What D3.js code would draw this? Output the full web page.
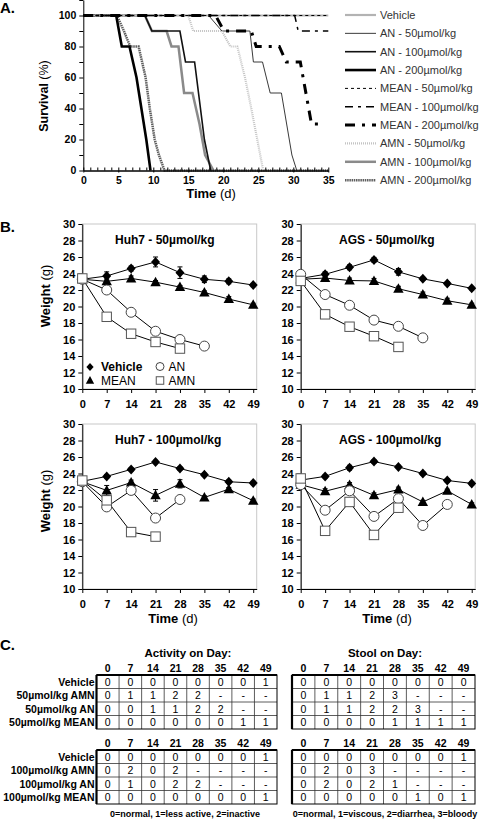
<!DOCTYPE html>
<html><head><meta charset="utf-8">
<script src="https://cdn.jsdelivr.net/npm/d3@7"></script>
<style>body{margin:0;background:#fff}svg{display:block}</style>
</head><body>
<svg id="c" width="480" height="819"></svg>
<script>
// ---------- Panel A: survival data (day, % survival) ----------
const survLabels = ["Vehicle","AN - 50µmol/kg","AN - 100µmol/kg","AN - 200µmol/kg","MEAN - 50µmol/kg","MEAN - 100µmol/kg","MEAN - 200µmol/kg","AMN - 50µmol/kg","AMN - 100µmol/kg","AMN - 200µmol/kg"];
const survVehicle = [[0,100],[35,100]];
const survAN50 = [[0,100],[17.9,100],[19.8,90],[23.8,90],[24.3,70],[25.6,70],[26.7,50],[28.3,50],[29.8,10],[30.5,0]];
const survAN100 = [[0,100],[8.8,100],[9.8,90],[13.8,90],[14.6,70],[15.9,70],[17.3,20],[18.2,0]];
const survAN200 = [[0,100],[4.7,100],[5.5,80],[6.6,80],[7.6,60],[8.3,40],[9.0,20],[9.6,0]];
const survMEAN50 = [[0,100],[35,100]];
const survMEAN100 = [[0,100],[30.2,100],[30.7,90],[35,90]];
const survMEAN200 = [[0,100],[18.9,100],[20.1,90],[24,90],[24.7,80],[28,80],[29,70],[31,70],[32.6,30],[33.6,30]];
const survAMN50 = [[0,100],[15,100],[15.7,90],[19.8,90],[21,80],[22,80],[23.1,60],[24,40],[25.7,0]];
const survAMN100 = [[0,100],[8.8,100],[9.8,90],[11.9,90],[12.6,80],[13.6,80],[14.4,50],[15.6,50],[16.6,30],[17.4,10],[18.6,0]];
const survAMN200 = [[0,100],[4.8,100],[5.8,90],[6.7,80],[7.9,80],[8.9,60],[9.5,40],[10.2,20],[10.8,10],[11.6,0],[35,0]];
const survTicksX = [0,5,10,15,20,25,30,35];
const survTicksY = [0,20,40,60,80,100];

// ---------- Panel B: body weight (g) ----------
const weekDays = [0,7,14,21,28,35,42,49];
const weightTicksY = [10,12,14,16,18,20,22,24,26,28,30];
const huh50Vehicle = [23.3,23.7,24.6,25.4,24.1,23.3,23.05,22.6];
const huh50VehicleErr = [0.3,0.5,0.3,0.6,0.7,0.4,0.3,0.2];
const huh50Mean = [23.3,23.05,23.4,22.95,22.35,21.7,20.9,20.2];
const huh50MeanErr = [0.2,0.3,0.3,0.2,0.2,0.2,0.3,0.2];
const huh50AN = [23.3,22.0,19.3,17.0,16.0,15.2];
const huh50AMN = [23.4,18.75,16.7,15.7,14.9];
const ags50Vehicle = [23.4,23.9,24.75,25.65,24.2,23.35,22.8,22.2];
const ags50VehicleErr = [0.3,0.3,0.3,0.3,0.4,0.2,0.2,0.2];
const ags50Mean = [23.3,23.45,23.15,23.1,22.15,21.45,20.7,20.2];
const ags50MeanErr = [0.3,0.3,0.3,0.3,0.3,0.3,0.3,0.2];
const ags50AN = [23.9,21.45,20.15,18.35,17.6,16.2];
const ags50AMN = [23.1,19.05,17.55,16.4,15.1];
const huh100Vehicle = [23.05,23.65,24.5,25.4,24.6,23.85,23.0,22.85];
const huh100VehicleErr = [0.2,0.2,0.2,0.2,0.2,0.2,0.2,0.2];
const huh100Mean = [23.0,21.95,22.9,21.35,22.75,21.1,22.1,20.7];
const huh100MeanErr = [0.2,0.6,0.3,0.7,0.5,0.2,0.2,0.2];
const huh100AN = [23.0,19.95,21.95,18.6,20.85];
const huh100AMN = [23.15,20.75,16.9,16.35];
const ags100Vehicle = [23.2,23.65,24.7,25.45,24.8,24.0,23.15,22.8];
const ags100VehicleErr = [0.2,0.2,0.3,0.2,0.2,0.2,0.2,0.2];
const ags100Mean = [22.65,21.85,22.6,21.35,22.05,20.55,21.9,20.25];
const ags100MeanErr = [0.2,0.3,0.3,0.3,0.3,0.2,0.2,0.2];
const ags100AN = [22.65,19.55,21.9,18.8,20.95,17.7,20.25];
const ags100AMN = [23.4,17.05,20.55,16.55,19.85];
const ags100AMNErr = [0.2,0.3,0.3,0.4,0.3];

// ---------- Panel C: tables ----------
const tableDays = ["0","7","14","21","28","35","42","49"];
const act50Labels = ["Vehicle","50µmol/kg AMN","50µmol/kg AN","50µmol/kg MEAN"];
const act100Labels = ["Vehicle","100µmol/kg AMN","100µmol/kg AN","100µmol/kg MEAN"];
const act50Vehicle = ["0","0","0","0","0","0","0","1"];
const act50AMN = ["0","1","1","2","2","-","-","-"];
const act50AN = ["0","0","1","1","2","2","-","-"];
const act50MEAN = ["0","0","0","0","0","0","1","1"];
const act100Vehicle = ["0","0","0","0","0","0","0","1"];
const act100AMN = ["0","2","0","2","-","-","-","-"];
const act100AN = ["0","1","0","2","2","-","-","-"];
const act100MEAN = ["0","0","0","0","0","0","0","1"];
const stool50Vehicle = ["0","0","0","0","0","0","0","0"];
const stool50AMN = ["0","1","1","2","3","-","-","-"];
const stool50AN = ["0","1","1","2","2","3","-","-"];
const stool50MEAN = ["0","0","0","0","1","1","1","1"];
const stool100Vehicle = ["0","0","0","0","0","0","0","1"];
const stool100AMN = ["0","2","0","3","-","-","-","-"];
const stool100AN = ["0","2","0","2","1","-","-","-"];
const stool100MEAN = ["0","0","0","0","0","1","0","1"];

const FONT = "Arial, 'Liberation Sans', Helvetica, sans-serif";
const svg = d3.select("#c").attr("font-family", FONT);

function styleAxis(g, size, bold){
  g.attr("font-family", FONT).attr("font-size", size);
  g.selectAll("text").attr("font-weight", bold ? "bold" : "normal").attr("fill","#000");
  g.selectAll("line,path").attr("stroke","#000");
}
function panelLetter(t, y){
  svg.append("text").attr("x",0).attr("y",y).attr("font-size",15).attr("font-weight","bold").text(t);
}

// ================= PANEL A =================
panelLetter("A.", 12.5);
const xA = d3.scaleLinear().domain([0,35]).range([83.3,328.3]);
const yA = d3.scaleLinear().domain([0,110]).range([170.5,0]);
const gA = svg.append("g");

const survSeries = [survVehicle,survAN50,survAN100,survAN200,survMEAN50,survMEAN100,survMEAN200,survAMN50,survAMN100,survAMN200];
const survStyle = [
  {c:"#b3b3b3", w:2.2, d:null},
  {c:"#3a3a3a", w:1, d:null},
  {c:"#111", w:1.6, d:null},
  {c:"#000", w:2.6, d:null},
  {c:"#000", w:1, d:"3,3"},
  {c:"#000", w:1.5, d:"8,5,3,5"},
  {c:"#000", w:3, d:"10,7,3,7"},
  {c:"#c4c4c4", w:2.2, d:"1,1"},
  {c:"#8a8a8a", w:2.5, d:null},
  {c:"#5e5e5e", w:2.5, d:"1.5,0.7"}
];
const lineA = d3.line().x(d=>xA(d[0])).y(d=>yA(d[1]));
const drawOrderA = [8,9,2,3,1,0,7,4,5,6];
drawOrderA.forEach(i=>{
  const s = survStyle[i];
  gA.append("path").datum(survSeries[i]).attr("d",lineA)
    .attr("fill","none").attr("stroke",s.c).attr("stroke-width",s.w)
    .attr("stroke-dasharray",s.d).attr("stroke-linejoin","miter");
});

const yAxA = gA.append("g").attr("transform",`translate(${xA(0)},0)`)
  .call(d3.axisLeft(yA).tickValues(d3.range(0,111,10))
    .tickFormat(d=> survTicksY.includes(d) ? d : "").tickSize(4).tickSizeOuter(0).tickPadding(3));
styleAxis(yAxA, 10.5, true);
const xAxMinor = gA.append("g").attr("transform",`translate(0,${yA(0)})`)
  .call(d3.axisTop(xA).tickValues(d3.range(0,36,1)).tickSize(3).tickFormat("").tickSizeOuter(0));
styleAxis(xAxMinor, 10, false);
const xAxA = gA.append("g").attr("transform",`translate(0,${yA(0)})`)
  .call(d3.axisBottom(xA).tickValues(survTicksX).tickSize(2).tickSizeOuter(0).tickPadding(4));
styleAxis(xAxA, 10.5, true);

{
  const t = svg.append("text").attr("text-anchor","middle").attr("font-size",12.5)
    .attr("transform","translate(48,96) rotate(-90)");
  t.append("tspan").attr("font-weight","bold").text("Survival");
  t.append("tspan").text(" (%)");
  const t2 = svg.append("text").attr("text-anchor","middle").attr("font-size",13)
    .attr("x",211).attr("y",198);
  t2.append("tspan").attr("font-weight","bold").text("Time");
  t2.append("tspan").text(" (d)");
}
// legend A
survLabels.forEach((lab,i)=>{
  const y = 15 + i*18.35;
  const s = survStyle[i];
  svg.append("line").attr("x1",345).attr("x2",376).attr("y1",y).attr("y2",y)
    .attr("stroke",s.c).attr("stroke-width",s.w).attr("stroke-dasharray",s.d);
  svg.append("text").attr("x",380).attr("y",y+4).attr("font-size",11).attr("fill","#333").text(lab);
});

// ================= PANEL B =================
panelLetter("B.", 232);
const diamondPath = "M0,-5L4.5,0L0,5L-4.5,0Z";
const trianglePath = "M0,-5.5L5.2,4L-5.2,4Z";
function marker(g, type, x, y, scale){
  scale = scale || 1;
  if(type==="veh") g.append("path").attr("d",diamondPath).attr("transform",`translate(${x},${y}) scale(${scale})`).attr("fill","#000");
  else if(type==="mean") g.append("path").attr("d",trianglePath).attr("transform",`translate(${x},${y}) scale(${scale})`).attr("fill","#000");
  else if(type==="an") g.append("circle").attr("cx",x).attr("cy",y).attr("r",5*scale).attr("fill","#fff").attr("stroke","#444").attr("stroke-width",1);
  else g.append("rect").attr("x",x-4.7*scale).attr("y",y-4.7*scale).attr("width",9.4*scale).attr("height",9.4*scale).attr("fill","#fff").attr("stroke","#555").attr("stroke-width",1);
}
function weightPanel(o){
  const x = d3.scaleLinear().domain([0,50]).range([o.x0,o.x1]);
  const y = d3.scaleLinear().domain([10,30]).range([o.y1,o.y0]);
  const g = svg.append("g");
  g.append("rect").attr("x",x(0)).attr("y",y(30)).attr("width",x(50)-x(0)).attr("height",y(10)-y(30))
    .attr("fill","none").attr("stroke","#c8c8c8").attr("stroke-width",1);
  const ya = g.append("g").attr("transform",`translate(${x(0)},0)`)
    .call(d3.axisLeft(y).tickValues(weightTicksY).tickSize(4).tickSizeOuter(0).tickPadding(3));
  styleAxis(ya, 11, true);
  const xa = g.append("g").attr("transform",`translate(0,${y(10)})`)
    .call(d3.axisBottom(x).tickValues(weekDays).tickSize(4).tickSizeOuter(0).tickPadding(7));
  styleAxis(xa, 11, true);
  g.append("text").attr("x",o.titleX).attr("y",o.y0+19.5).attr("font-size",12).attr("font-weight","bold").text(o.title);
  const line = d3.line().x((d,i)=>x(weekDays[i])).y(d=>y(d));
  const order = [["veh",o.veh,o.vehErr],["mean",o.mean,o.meanErr],["an",o.an,o.anErr],["amn",o.amn,o.amnErr]];
  order.forEach(([t,vals])=>{
    g.append("path").datum(vals).attr("d",line).attr("fill","none").attr("stroke","#000").attr("stroke-width",1);
  });
  order.forEach(([t,vals,err])=>{
    if(err){
      vals.forEach((v,i)=>{
        const e = err[i]; if(!e) return;
        const cx = x(weekDays[i]);
        g.append("line").attr("x1",cx).attr("x2",cx).attr("y1",y(v-e)).attr("y2",y(v+e)).attr("stroke","#000");
        g.append("line").attr("x1",cx-2.5).attr("x2",cx+2.5).attr("y1",y(v-e)).attr("y2",y(v-e)).attr("stroke","#000");
        g.append("line").attr("x1",cx-2.5).attr("x2",cx+2.5).attr("y1",y(v+e)).attr("y2",y(v+e)).attr("stroke","#000");
      });
    }
    vals.forEach((v,i)=> marker(g, t, x(weekDays[i]), y(v)));
  });
  if(o.yLabel){
    const t = svg.append("text").attr("text-anchor","middle").attr("font-size",13)
      .attr("transform",`translate(50,${o.yLabelY}) rotate(-90)`);
    t.append("tspan").attr("font-weight","bold").text("Weight");
    t.append("tspan").text(" (g)");
  }
  if(o.xLabel){
    const t = svg.append("text").attr("text-anchor","middle").attr("font-size",13)
      .attr("x",o.xLabelX).attr("y",o.y1+34);
    t.append("tspan").attr("font-weight","bold").text("Time");
    t.append("tspan").text(" (d)");
  }
  if(o.legend){
    const items = [["veh","Vehicle",90,367],["mean","MEAN",90,380.5],["an","AN",160,366.5],["amn","AMN",160,380.5]];
    items.forEach(([t,lab,lx,ly])=>{
      marker(g, t, lx, ly, 0.8);
      g.append("text").attr("x",lx+(t==="veh"||t==="mean"?11:8.5)).attr("y",ly+4.3).attr("font-size",12)
        .attr("font-weight", t==="veh" ? "bold" : "normal").text(lab);
    });
  }
}
weightPanel({x0:82.3,x1:256.7,y0:224,y1:389,title:"Huh7 - 50µmol/kg",titleX:115,
  veh:huh50Vehicle,vehErr:huh50VehicleErr,mean:huh50Mean,meanErr:huh50MeanErr,an:huh50AN,amn:huh50AMN,
  yLabel:true,yLabelY:296,legend:true});
weightPanel({x0:300.7,x1:475.2,y0:224,y1:389,title:"AGS - 50µmol/kg",titleX:339,
  veh:ags50Vehicle,vehErr:ags50VehicleErr,mean:ags50Mean,meanErr:ags50MeanErr,an:ags50AN,amn:ags50AMN});
weightPanel({x0:82.3,x1:256.7,y0:424,y1:589,title:"Huh7 - 100µmol/kg",titleX:115,
  veh:huh100Vehicle,vehErr:huh100VehicleErr,mean:huh100Mean,meanErr:huh100MeanErr,an:huh100AN,amn:huh100AMN,
  yLabel:true,yLabelY:501,xLabel:true,xLabelX:173});
weightPanel({x0:300.7,x1:475.2,y0:424,y1:589,title:"AGS - 100µmol/kg",titleX:339,
  veh:ags100Vehicle,vehErr:ags100VehicleErr,mean:ags100Mean,meanErr:ags100MeanErr,an:ags100AN,amn:ags100AMN,amnErr:ags100AMNErr,
  xLabel:true,xLabelX:387});

// ================= PANEL C =================
panelLetter("C.", 650);
function drawTable(o){
  const xb = d3.scaleBand().domain(tableDays).range([o.x0,o.x1]);
  const bw = xb.bandwidth();
  const g = svg.append("g");
  tableDays.forEach(d=>{
    g.append("text").attr("x",xb(d)+bw/2).attr("y",o.headerY+4).attr("text-anchor","middle")
      .attr("font-size",10.5).attr("font-weight","bold").text(d);
  });
  const h = o.rows.length*o.rowH;
  for(let i=1;i<o.rows.length;i++){
    g.append("line").attr("x1",o.x0).attr("x2",o.x1).attr("y1",o.top+i*o.rowH).attr("y2",o.top+i*o.rowH)
      .attr("stroke","#333").attr("stroke-width",0.8);
  }
  tableDays.forEach((d,i)=>{ if(i>0)
    g.append("line").attr("x1",xb(d)).attr("x2",xb(d)).attr("y1",o.top).attr("y2",o.top+h)
      .attr("stroke","#333").attr("stroke-width",0.8);
  });
  g.append("rect").attr("x",o.x0).attr("y",o.top).attr("width",o.x1-o.x0).attr("height",h)
    .attr("fill","none").attr("stroke","#000").attr("stroke-width",1);
  g.append("line").attr("x1",o.x0).attr("x2",o.x1).attr("y1",o.top).attr("y2",o.top).attr("stroke","#000").attr("stroke-width",2);
  g.append("line").attr("x1",o.x0).attr("x2",o.x0).attr("y1",o.top).attr("y2",o.top+h).attr("stroke","#000").attr("stroke-width",2.2);
  o.rows.forEach((row,r)=>{
    const cy = o.top + r*o.rowH + o.rowH/2;
    row.forEach((v,i)=>{
      g.append("text").attr("x",xb(tableDays[i])+bw/2).attr("y",cy+3.8).attr("text-anchor","middle")
        .attr("font-size",10.5).text(v);
    });
    if(o.labels){
      g.append("text").attr("x",o.x0-2).attr("y",cy+3.8).attr("text-anchor","end")
        .attr("font-size",10.5).attr("font-weight","bold").text(o.labels[r]);
    }
  });
}
svg.append("text").attr("x",188).attr("y",657).attr("text-anchor","middle").attr("font-size",11.5).attr("font-weight","bold").text("Activity on Day:");
svg.append("text").attr("x",385).attr("y",657).attr("text-anchor","middle").attr("font-size",11.5).attr("font-weight","bold").text("Stool on Day:");
drawTable({x0:96.5,x1:277,headerY:668,top:675,rowH:13.5,labels:act50Labels,rows:[act50Vehicle,act50AMN,act50AN,act50MEAN]});
drawTable({x0:292,x1:475,headerY:668,top:675,rowH:13.5,rows:[stool50Vehicle,stool50AMN,stool50AN,stool50MEAN]});
drawTable({x0:96.5,x1:277,headerY:743,top:750,rowH:13.5,labels:act100Labels,rows:[act100Vehicle,act100AMN,act100AN,act100MEAN]});
drawTable({x0:292,x1:475,headerY:743,top:750,rowH:13.5,rows:[stool100Vehicle,stool100AMN,stool100AN,stool100MEAN]});
svg.append("text").attr("x",185).attr("y",817).attr("text-anchor","middle").attr("font-size",9).attr("font-weight","bold").text("0=normal, 1=less active, 2=inactive");
svg.append("text").attr("x",385).attr("y",817).attr("text-anchor","middle").attr("font-size",9).attr("font-weight","bold").text("0=normal, 1=viscous, 2=diarrhea, 3=bloody");
</script>
</body></html>
